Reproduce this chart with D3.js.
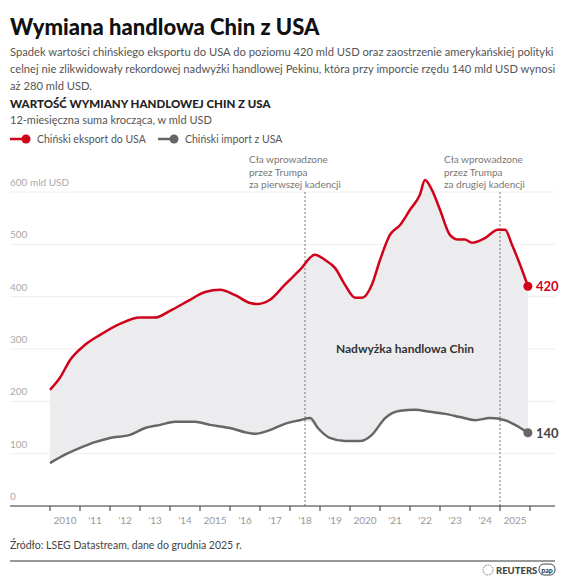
<!DOCTYPE html>
<html><head><meta charset="utf-8">
<script src="https://cdn.jsdelivr.net/npm/d3@7"></script>
<style>
body{margin:0;background:#fff;font-family:Lato,"Noto Sans",sans-serif}
</style></head><body>
<svg id="c" width="564" height="580"></svg>
<script>
// dane (rok dziesiętny, mld USD)
var exportYears = [2010,2010.33,2010.67,2011.17,2011.67,2012.33,2013,2013.5,2014,2014.67,2015.17,2015.67,2016.17,2016.67,2016.93,2017.33,2017.83,2018.33,2018.83,2019.17,2019.5,2019.83,2020.17,2020.4,2020.73,2021,2021.33,2021.67,2022,2022.33,2022.5,2022.73,2023,2023.33,2023.6,2023.83,2024.07,2024.5,2024.93,2025.17,2025.4,2025.67,2025.93];
var exportVals = [222,245,279,308,327,348,360,360,373,394,409,413,403,388,386,394,423,451,480,470,455,423,398,398,423,470,518,537,566,595,623,604,566,518,509,509,503,512,528,528,499,461,420];
var importYears = [2010,2010.5,2011,2011.5,2012,2012.67,2013.17,2013.67,2014.17,2014.83,2015.33,2016,2016.5,2016.83,2017.33,2017.83,2018.33,2018.67,2018.93,2019.33,2019.83,2020.33,2020.73,2021.17,2021.67,2022.17,2022.67,2023.17,2023.67,2024.17,2024.67,2025.17,2025.5,2025.93];
var importVals = [82,98,111,122,130,136,149,155,161,161,155,149,141,138,145,157,164,168,149,130,124,124,136,168,182,184,180,176,170,164,168,164,155,140];
var yTicks = [0,100,200,300,400,500,600];
var xYears = d3.range(2010,2026);
var xLabels = ["2010","'11","'12","'13","'14","2015","'16","'17","'18","'19","2020","'21","'22","'23","'24","2025"];
var tariffs = [{year:2018.5,lines:["Cła wprowadzone","przez Trumpa","za pierwszej kadencji"]},
               {year:2025.0,lines:["Cła wprowadzone","przez Trumpa","za drugiej kadencji"]}];

var svg = d3.select("#c");
var red = "#d0021b", grey = "#666";
var x = d3.scaleLinear().domain([2010,2026]).range([50,530]);
var y = d3.scaleLinear().domain([0,600]).range([506,192]);

svg.append("text").attr("x",10).attr("y",35).attr("font-size",22).attr("font-weight",900).attr("fill","#111").text("Wymiana handlowa Chin z USA");
["Spadek wartości chińskiego eksportu do USA do poziomu 420 mld USD oraz zaostrzenie amerykańskiej polityki",
 "celnej nie zlikwidowały rekordowej nadwyżki handlowej Pekinu, która przy imporcie rzędu 140 mld USD wynosi",
 "aż 280 mld USD."].forEach(function(t,i){
  svg.append("text").attr("x",10).attr("y",56+i*17).attr("font-size",11.2).attr("fill","#555").text(t);
});
svg.append("text").attr("x",10).attr("y",108).attr("font-size",11.5).attr("font-weight",900).attr("fill","#222").text("WARTOŚĆ WYMIANY HANDLOWEJ CHIN Z USA");
svg.append("text").attr("x",10).attr("y",124).attr("font-size",11).attr("fill","#555").text("12-miesięczna suma krocząca, w mld USD");
[[10,red,"Chiński eksport do USA"],[158,grey,"Chiński import z USA"]].forEach(function(l){
  svg.append("line").attr("x1",l[0]).attr("x2",l[0]+14).attr("y1",139).attr("y2",139).attr("stroke",l[1]).attr("stroke-width",2.5);
  svg.append("circle").attr("cx",l[0]+16).attr("cy",139).attr("r",4.5).attr("fill",l[1]);
  svg.append("text").attr("x",l[0]+27).attr("y",143).attr("font-size",10.5).attr("fill","#555").text(l[2]);
});

// siatka
yTicks.forEach(function(v){
  if(v>0) svg.append("line").attr("x1",10).attr("x2",555).attr("y1",y(v)).attr("y2",y(v)).attr("stroke","#eee");
  svg.append("text").attr("x",10).attr("y",y(v)-6).attr("font-size",10).attr("fill","#aaa").text(v==600?"600 mld USD":v);
});

// pole nadwyżki
var imp = d3.scaleLinear().domain(importYears).range(importVals);
var areaPts = exportYears.map(function(t,i){return [t,exportVals[i],imp(t)];});
svg.append("path").datum(areaPts).attr("fill","#ececef")
  .attr("d",d3.area().x(d=>x(d[0])).y0(d=>y(d[2])).y1(d=>y(d[1])).curve(d3.curveMonotoneX));

// cła
tariffs.forEach(function(t){
  svg.append("line").attr("x1",x(t.year)).attr("x2",x(t.year)).attr("y1",192).attr("y2",506).attr("stroke","#777").attr("stroke-dasharray","2,2");
  t.lines.forEach(function(s,i){
    svg.append("text").attr("x",x(t.year)-56).attr("y",163+i*12.5).attr("font-size",10).attr("fill","#777").text(s);
  });
});

var line = d3.line().x(d=>x(d[0])).y(d=>y(d[1])).curve(d3.curveMonotoneX);
svg.append("path").datum(importYears.map((t,i)=>[t,importVals[i]])).attr("fill","none").attr("stroke",grey).attr("stroke-width",2.5).attr("d",line);
svg.append("path").datum(exportYears.map((t,i)=>[t,exportVals[i]])).attr("fill","none").attr("stroke",red).attr("stroke-width",2.5).attr("d",line);
var le = exportYears.length-1, li = importYears.length-1;
svg.append("circle").attr("cx",x(exportYears[le])).attr("cy",y(exportVals[le])).attr("r",4.5).attr("fill",red);
svg.append("circle").attr("cx",x(importYears[li])).attr("cy",y(importVals[li])).attr("r",4.5).attr("fill",grey);
svg.append("text").attr("x",x(exportYears[le])+8).attr("y",y(exportVals[le])+5).attr("font-size",13).attr("font-weight",700).attr("fill",red).text(exportVals[le]);
svg.append("text").attr("x",x(importYears[li])+8).attr("y",y(importVals[li])+5).attr("font-size",13).attr("font-weight",700).attr("fill","#444").text(importVals[li]);
svg.append("text").attr("x",405).attr("y",353).attr("text-anchor","middle").attr("font-size",12).attr("font-weight",700).attr("fill","#333").text("Nadwyżka handlowa Chin");

// oś X
svg.append("line").attr("x1",10).attr("x2",555).attr("y1",506).attr("y2",506).attr("stroke","#333");
d3.range(2010,2027).forEach(function(t){
  svg.append("line").attr("x1",x(t)).attr("x2",x(t)).attr("y1",506).attr("y2",511).attr("stroke","#333");
});
xYears.forEach(function(t,i){
  svg.append("text").attr("x",x(t+0.5)).attr("y",524).attr("text-anchor","middle").attr("font-size",10).attr("fill","#999").text(xLabels[i]);
});

svg.append("text").attr("x",10).attr("y",549).attr("font-size",10.5).attr("fill","#444").text("Źródło: LSEG Datastream, dane do grudnia 2025 r.");
svg.append("line").attr("x1",10).attr("x2",555).attr("y1",561).attr("y2",561).attr("stroke","#333");
svg.append("circle").attr("cx",488).attr("cy",570).attr("r",5).attr("fill","none").attr("stroke","#777").attr("stroke-dasharray","1.5,1");
svg.append("text").attr("x",496).attr("y",574).attr("font-size",9.5).attr("font-weight",900).attr("fill","#444").text("REUTERS");
svg.append("rect").attr("x",539).attr("y",564).attr("width",16).attr("height",11).attr("rx",5).attr("fill","none").attr("stroke","#444");
svg.append("text").attr("x",547).attr("y",572.5).attr("text-anchor","middle").attr("font-size",7).attr("font-weight",900).attr("fill","#444").text("pap");
</script></body></html>
